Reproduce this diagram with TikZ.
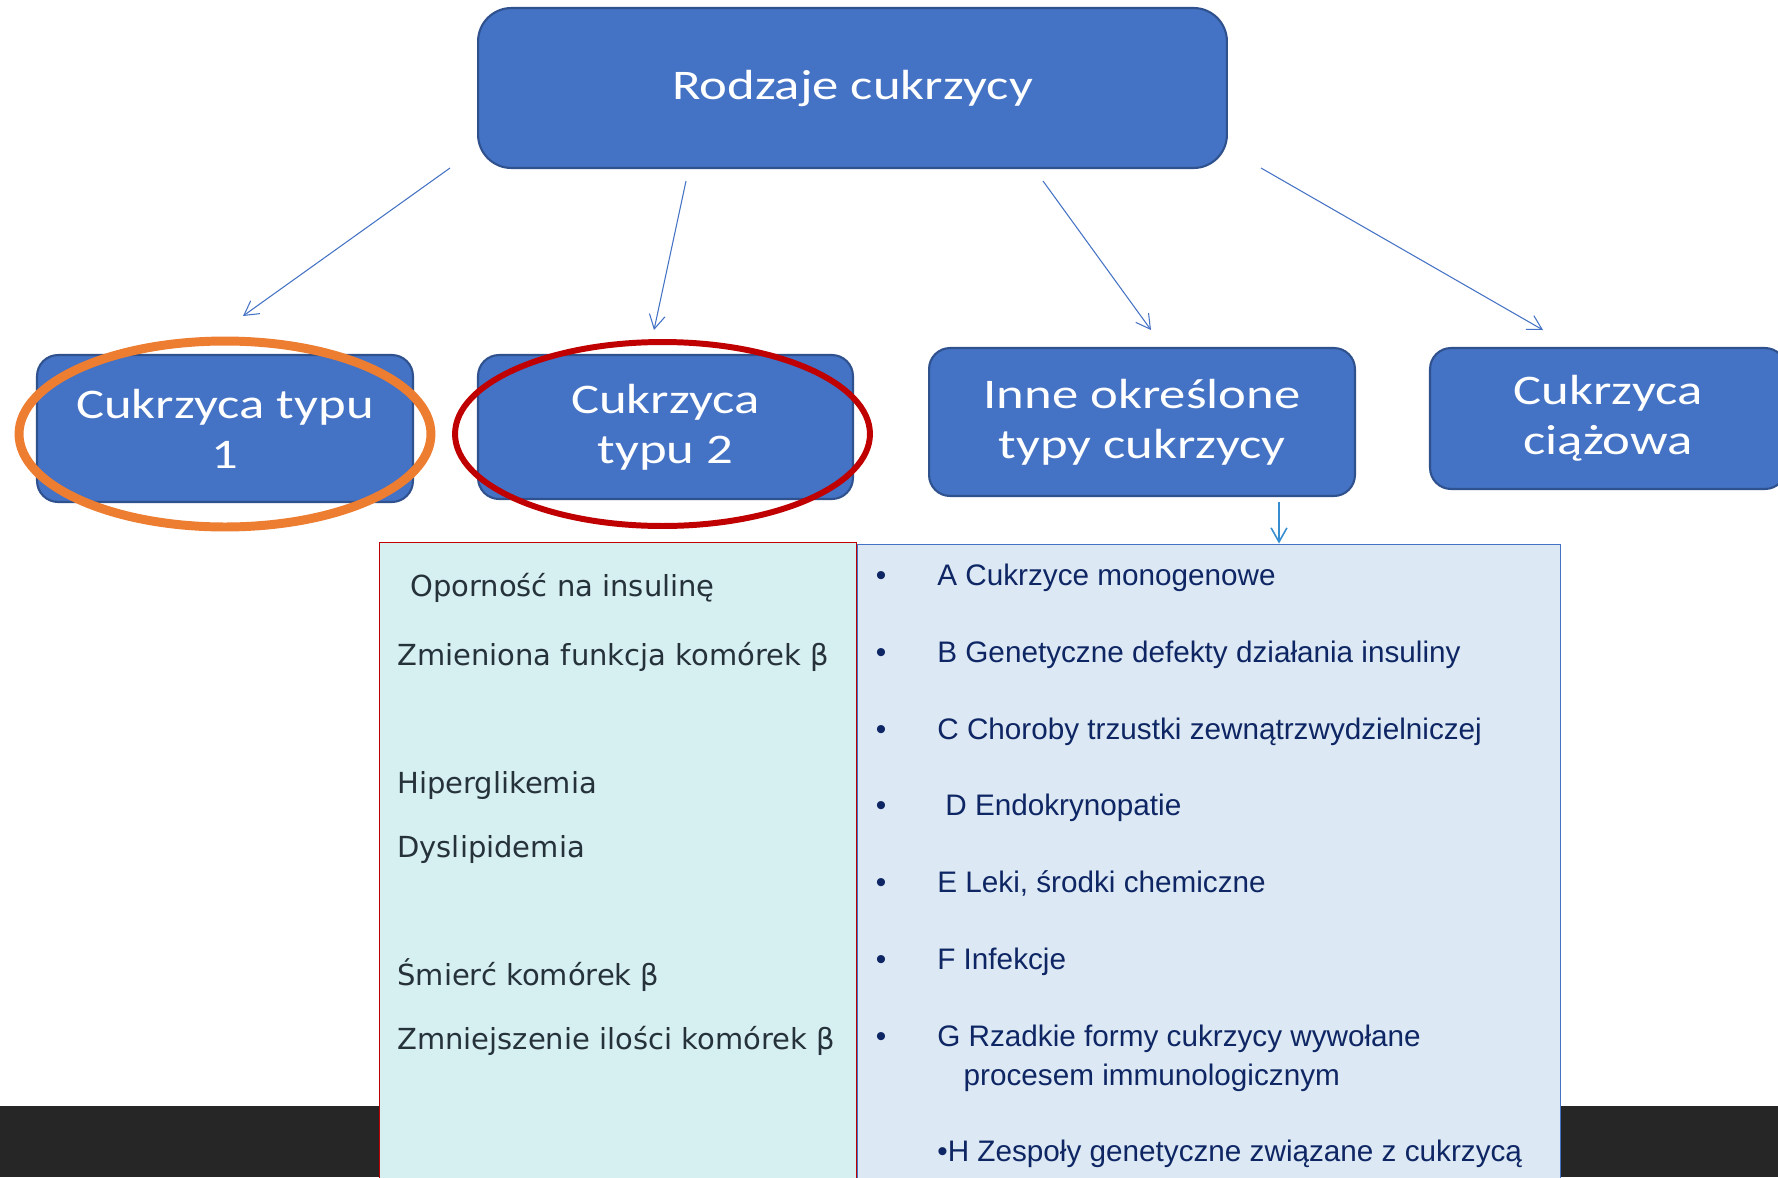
\documentclass[tikz,border=0pt]{standalone}
\usepackage{fontspec}
\setmainfont{DejaVu Sans}
\newfontfamily\boxfont{Carlito}[FakeStretch=1.25]
\newfontfamily\listfont{Liberation Sans}
\usetikzlibrary{positioning}
\usetikzlibrary{shapes,arrows.meta}
\definecolor{boxblue}{HTML}{4472C4}
\definecolor{boxedge}{HTML}{2F528F}
\definecolor{ringorange}{HTML}{ED7D31}
\definecolor{ringred}{HTML}{C00000}
\definecolor{leftfill}{RGB}{214,239,240}
\definecolor{rightfill}{RGB}{220,232,243}
\definecolor{leftink}{RGB}{38,50,58}
\definecolor{rightink}{RGB}{14,38,100}
\definecolor{band}{RGB}{38,38,38}
\tikzstyle{block} = [rectangle, draw=boxedge, line width=1.2pt, fill=boxblue,
                text=white, align=center, rounded corners=12pt,
                font=\boxfont\fontsize{24}{28.5}\selectfont]
\tikzstyle{line} = [draw=boxblue, line width=0.6pt, -{Straight Barb[length=8pt,width=9pt]}]
\tikzstyle{panel} = [rectangle, line width=0.6pt, inner sep=0pt]
\tikzstyle{cause} = [anchor=base west, inner sep=0pt, text=leftink,
                font=\fontsize{16.5}{19}\selectfont]
\tikzstyle{kind} = [anchor=base west, inner sep=0pt, text=rightink, align=left,
                font=\listfont\fontsize{16.9}{22}\selectfont]
\tikzstyle{dot} = [anchor=base, inner sep=0pt, text=rightink,
                font=\listfont\fontsize{17}{22}\selectfont]

\begin{document}
\begin{tikzpicture}[x=0.02cm, y=-0.02cm]
        \clip (0,0) rectangle (1778,1177);
        \fill[white] (0,0) rectangle (1778,1177);
        \fill[band] (0,1106) rectangle (1778,1177);
        % the four kinds
        \node[block, minimum width=14.98cm, minimum height=3.2cm, rounded corners=19pt](rodzaje) at (852.5,88){\raisebox{-3pt}{Rodzaje cukrzycy}};
        \node[block, minimum width=7.52cm, minimum height=2.94cm](typ1) at (225,428.5){Cukrzyca typu\\1};
        \node[block, minimum width=7.5cm, minimum height=2.88cm](typ2) at (665.5,427){Cukrzyca\\typu 2};
        \node[block, minimum width=8.52cm, minimum height=2.96cm](inne) at (1142,422){Inne określone\\typy cukrzycy};
        \node[block, minimum width=7.12cm, minimum height=2.82cm](ciazowa) at (1608,418.5){Cukrzyca\\ciążowa};
        \coordinate (s1) at (450,168);  \coordinate (e1) at (243,316);
        \coordinate (s2) at (686,181);  \coordinate (e2) at (654,330);
        \coordinate (s3) at (1043,181); \coordinate (e3) at (1151,330);
        \coordinate (s4) at (1261,168); \coordinate (e4) at (1543,330);
        \coordinate (s5) at (1279,502);
        \path[line] (s1) -- (e1);
        \path[line] (s2) -- (e2);
        \path[line] (s3) -- (e3);
        \path[line] (s4) -- (e4);
        % rings round type 1 and type 2
        \draw[ringorange, line width=5.1pt] (typ1.center) ++(0,5.5) ellipse [x radius=4.12cm, y radius=1.86cm];
        \draw[ringred, line width=3.4pt] (typ2.center) ++(-3,7) ellipse [x radius=4.15cm, y radius=1.84cm];
        % panels
        \node[panel, draw=boxblue, fill=rightfill, minimum width=14.08cm, minimum height=12.92cm](lista) at (1209,867){};
        \node[panel, draw=ringred, fill=leftfill, minimum width=9.56cm, minimum height=12.96cm](przyczyny) at (618,866){};
        \path[line, draw=boxblue!80!cyan, line width=0.9pt] (s5) -- (lista.north -| s5);
        \node[cause](c1) at (410,596){Oporność na insulinę};
        \node[cause](c2) at (397,665){Zmieniona funkcja komórek β};
        \node[cause](c3) at (397,793){Hiperglikemia};
        \node[cause](c4) at (397,857){Dyslipidemia};
        \node[cause](c5) at (397,985){Śmierć komórek β};
        \node[cause](c6) at (397,1049){Zmniejszenie ilości komórek β};
        \foreach \y in {585,662,739,815,892,969,1046}
            \node[dot] at (881,\y){•};
        \node[kind](k1) at (937,585){A Cukrzyce monogenowe};
        \node[kind](k2) at (937,662){B Genetyczne defekty działania insuliny};
        \node[kind](k3) at (937,739){C Choroby trzustki zewnątrzwydzielniczej};
        \node[kind](k4) at (945,815){D Endokrynopatie};
        \node[kind](k5) at (937,892){E Leki, środki chemiczne};
        \node[kind](k6) at (937,969){F Infekcje};
        \node[kind](k7) at (937,1085){G Rzadkie formy cukrzycy wywołane\\\hspace{15pt}procesem immunologicznym};
        \node[kind](k8) at (937,1161){•H Zespoły genetyczne związane z cukrzycą};
\end{tikzpicture}
\end{document}
